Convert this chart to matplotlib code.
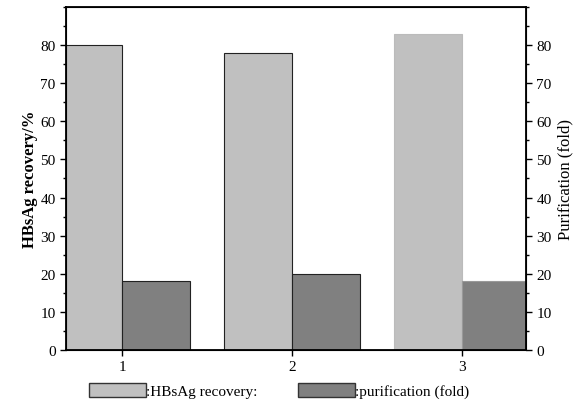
import matplotlib
matplotlib.use("Agg")
import matplotlib.pyplot as plt
from matplotlib.patches import Patch
from matplotlib.ticker import MultipleLocator
import numpy as np

plt.rcParams['font.family'] = ['Liberation Serif', 'DejaVu Serif']

# data
groups = [1, 2, 3]
recovery = [80, 78, 83]        # HBsAg recovery / %
purification = [18, 20, 18]    # purification (fold)

light = '#c0c0c0'
dark = '#808080'
w = 0.4

fig = plt.figure(figsize=(5.81, 4.10), dpi=100)
ax = fig.add_axes([0.1136, 0.1439, 0.7918, 0.8366])

x = np.array(groups)
ax.bar(x - w / 2, recovery, width=w, color=light,
       edgecolor=['#222222', '#222222', '#bbbbbb'], linewidth=0.8)
ax.bar(x + w / 2, purification, width=w, color=dark,
       edgecolor=['#222222', '#222222', '#999999'], linewidth=0.8)

ax.set_xlim(0.67, 3.38)
ax.set_ylim(0, 90)
ax.set_xticks(groups)
ax.yaxis.set_minor_locator(MultipleLocator(5))
ax.set_yticks(range(0, 81, 10))
ax.tick_params(axis='both', labelsize=11, direction='out', length=4, width=1)
ax.tick_params(axis='y', which='minor', length=2.5, width=1)
ax.set_ylabel('HBsAg recovery/%', fontsize=12, fontweight='bold', labelpad=2)
for s in ax.spines.values():
    s.set_linewidth(1.3)

ax2 = ax.twinx()
ax2.set_ylim(0, 90)
ax2.set_yticks(range(0, 81, 10))
ax2.yaxis.set_minor_locator(MultipleLocator(5))
ax2.tick_params(axis='y', labelsize=11, direction='out', length=4, width=1)
ax2.tick_params(axis='y', which='minor', length=2.5, width=1)
ax2.set_ylabel('Purification (fold)', fontsize=12, labelpad=4)

handles = [Patch(facecolor=light, edgecolor='#333333', linewidth=1),
           Patch(facecolor=dark, edgecolor='#333333', linewidth=1)]
fig.legend(handles, [':HBsAg recovery:', ':purification (fold)'],
           loc='center', bbox_to_anchor=(0.48, 0.045), ncol=2, frameon=False,
           fontsize=11, handlelength=3.7, handleheight=1.0,
           handletextpad=0.0, columnspacing=2.7)

fig.savefig('out.png', dpi=100)
